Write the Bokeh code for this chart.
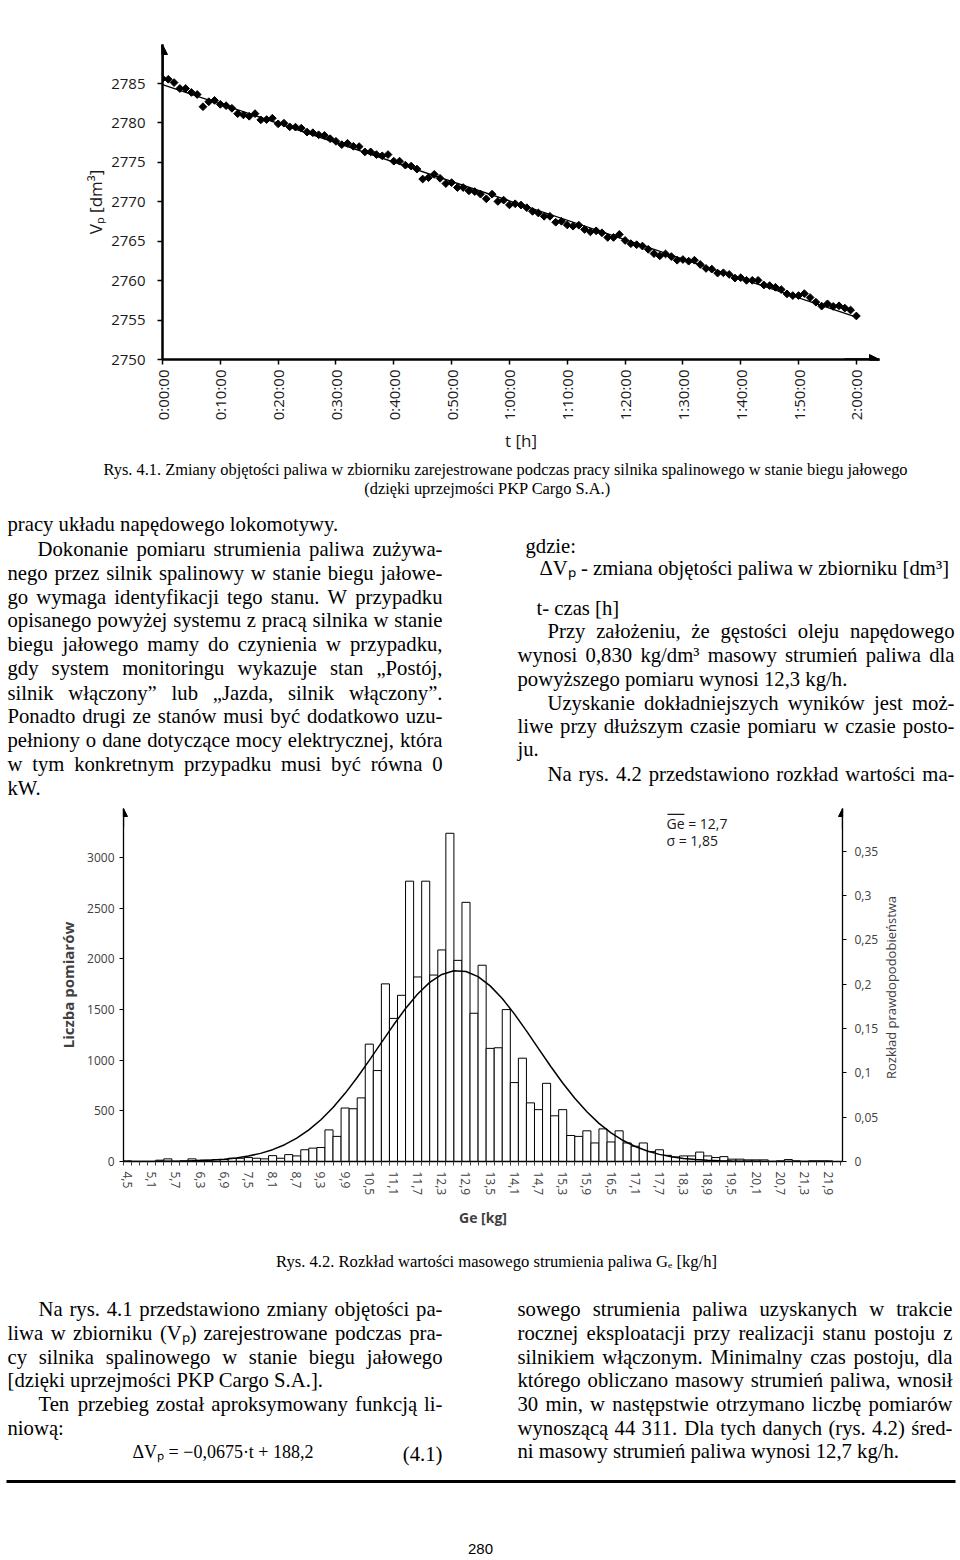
import numpy as np
from bokeh.plotting import figure
from bokeh.models import FixedTicker, Arrow, NormalHead, Label, Range1d, LinearAxis
from bokeh.layouts import column, row
from bokeh.embed import file_html
from bokeh.resources import INLINE
from bokeh.core.properties import value

# ---------------- Chart 1 data (Rys. 4.1) ----------------
minutes = list(range(0, 121))
volume_dm3 = [
    2785.62, 2785.54, 2785.12, 2784.37, 2784.37, 2783.87, 2783.61, 2782.06, 2782.69, 2782.86,
    2782.36, 2782.19, 2781.86, 2781.18, 2781.02, 2780.85, 2781.18, 2780.39, 2780.43, 2780.60,
    2779.89, 2779.97, 2779.51, 2779.47, 2779.34, 2778.84, 2778.76, 2778.50, 2778.42, 2778.00,
    2777.67, 2777.25, 2777.42, 2777.04, 2777.00, 2776.33, 2776.33, 2775.99, 2775.83, 2775.99,
    2775.15, 2775.15, 2774.65, 2774.53, 2774.15, 2772.89, 2773.06, 2773.48, 2772.98, 2772.31,
    2772.43, 2771.81, 2771.81, 2771.39, 2771.30, 2770.97, 2770.38, 2770.97, 2770.05, 2770.21,
    2769.61, 2769.75, 2769.59, 2769.25, 2768.79, 2768.58, 2768.16, 2768.16, 2767.41, 2767.53,
    2767.07, 2766.91, 2767.03, 2766.49, 2766.19, 2766.32, 2766.07, 2765.48, 2765.48, 2765.86,
    2765.10, 2764.69, 2764.56, 2764.39, 2763.97, 2763.43, 2763.14, 2763.39, 2763.05, 2762.59,
    2762.68, 2762.47, 2762.59, 2762.05, 2761.55, 2761.46, 2760.96, 2761.00, 2760.79, 2760.33,
    2760.37, 2760.04, 2760.04, 2760.04, 2759.45, 2759.37, 2759.16, 2758.87, 2758.32, 2758.11,
    2758.11, 2758.36, 2757.86, 2757.27, 2756.77, 2757.06, 2756.73, 2756.81, 2756.52, 2756.27,
    2755.52,
]
time_ticks = [0, 10, 20, 30, 40, 50, 60, 70, 80, 90, 100, 110, 120]
time_tick_labels = ["0:00:00", "0:10:00", "0:20:00", "0:30:00", "0:40:00", "0:50:00", "1:00:00",
                    "1:10:00", "1:20:00", "1:30:00", "1:40:00", "1:50:00", "2:00:00"]
volume_ticks = [2750, 2755, 2760, 2765, 2770, 2775, 2780, 2785]

# ---------------- Chart 2 data (Rys. 4.2) ----------------
ge_bins = [round(4.5 + 0.2 * i, 1) for i in range(89)]
counts = [
    6, 0, 0, 0, 13, 26, 0, 6, 26, 13,
    13, 19, 19, 32, 32, 39, 32, 26, 58, 32,
    68, 55, 116, 132, 138, 312, 248, 528, 521, 628,
    1159, 898, 1754, 1413, 1641, 2768, 1822, 2768, 1841, 2089,
    3241, 1986, 2559, 1464, 1938, 1117, 1123, 1500, 779, 1020,
    579, 512, 772, 451, 512, 257, 248, 303, 183, 322,
    193, 303, 183, 151, 183, 97, 116, 61, 45, 55,
    55, 93, 55, 39, 48, 23, 23, 16, 16, 16,
    0, 6, 19, 6, 0, 6, 6, 6, 0,
]
ge_tick_values = [round(4.5 + 0.6 * i, 1) for i in range(30)]
ge_tick_labels = ["4,5", "5,1", "5,7", "6,3", "6,9", "7,5", "8,1", "8,7", "9,3", "9,9",
                  "10,5", "11,1", "11,7", "12,3", "12,9", "13,5", "14,1", "14,7", "15,3", "15,9",
                  "16,5", "17,1", "17,7", "18,3", "18,9", "19,5", "20,1", "20,7", "21,3", "21,9"]
count_ticks = [0, 500, 1000, 1500, 2000, 2500, 3000]
prob_ticks = [0, 0.05, 0.1, 0.15, 0.2, 0.25, 0.3, 0.35]
prob_tick_labels = ["0", "0,05", "0,1", "0,15", "0,2", "0,25", "0,3", "0,35"]
pdf_ge = [round(4.5 + 0.3 * i, 1) for i in range(59)]
pdf_values = [
    0.00003, 0.00006, 0.00011, 0.0002, 0.00034, 0.00059, 0.00099, 0.00162, 0.00258, 0.00404,
    0.00616, 0.00917, 0.01334, 0.01896, 0.02629, 0.03562, 0.04713, 0.06092, 0.07687, 0.09473,
    0.11404, 0.13406, 0.15391, 0.17255, 0.18895, 0.20205, 0.21102, 0.21522, 0.21438, 0.20854,
    0.19811, 0.1838, 0.16654, 0.14738, 0.12736, 0.10749, 0.08859, 0.07131, 0.05607, 0.04304,
    0.03228, 0.02364, 0.0169, 0.0118, 0.00805, 0.00536, 0.00349, 0.00222, 0.00138, 0.00083,
    0.00049, 0.00028, 0.00016, 0.00009, 0.00005, 0.00003, 0.00001, 0.00001, 0.0,
]

CHART_FONT = "Open Sans"
SERIF = "Liberation Serif"
BODY = 20.7

# Times/Liberation Serif advance widths (per 1000 em) for justified lines
GLYPH_W = {' ': 250, ',': 250, '.': 250, '-': 333, ':': 278, ';': 278, '(': 333, ')': 333,
           '[': 333, ']': 333, '/': 278, '„': 444, '”': 444, '³': 300, 'Δ': 612, '−': 564,
           '·': 250, '=': 564, '+': 564, 'ₚ': 350, 'ₑ': 350}
GLYPH_W.update(dict(zip("abcdefghijklmnopqrstuvwxyz",
                        [444, 500, 444, 500, 444, 333, 500, 500, 278, 278, 500, 278, 778,
                         500, 500, 500, 500, 333, 389, 278, 500, 500, 722, 500, 500, 444])))
GLYPH_W.update(dict(zip("ABCDEFGHIJKLMNOPQRSTUVWXYZ",
                        [722, 667, 667, 722, 611, 556, 722, 722, 333, 389, 722, 611, 889,
                         722, 722, 556, 722, 667, 556, 611, 722, 722, 944, 722, 722, 611])))
GLYPH_W.update({d: 500 for d in "0123456789"})
GLYPH_W.update({'ą': 444, 'ę': 444, 'ć': 444, 'ł': 278, 'ń': 500, 'ó': 500, 'ś': 389,
                'ź': 444, 'ż': 444, 'Ł': 611, 'Ś': 556, 'Ż': 611})


def no_align(p):
    try:
        p.frame_align = False
    except Exception:
        pass


# ================= Chart 1 =================
p1 = figure(width=960, height=455, x_range=Range1d(0, 124.0), y_range=Range1d(2750, 2789.95),
            output_backend="svg", toolbar_location=None,
            min_border_left=162, min_border_right=81, min_border_top=44, min_border_bottom=93)
no_align(p1)
p1.grid.visible = False
p1.outline_line_color = None

slope, intercept = np.polyfit(minutes, volume_dm3, 1)
trend_t = [minutes[0], minutes[-1]]
trend_v = [intercept + slope * t for t in trend_t]
p1.line(trend_t, trend_v, line_color="black", line_width=1.3)
p1.scatter(minutes, volume_dm3, marker="square", size=5.5, angle=np.pi / 4,
           fill_color="black", line_color="black")

for ax in (p1.xaxis[0], p1.yaxis[0]):
    ax.axis_line_width = 2.5
    ax.axis_line_color = "black"
    ax.major_tick_line_color = "black"
    ax.major_tick_line_width = 1.5
    ax.major_tick_out = 5
    ax.major_tick_in = 0
    ax.minor_tick_line_color = None
    ax.major_label_text_font = CHART_FONT
    ax.major_label_text_font_size = "15px"
    ax.major_label_text_color = "#1a1a1a"
    ax.axis_label_text_font = CHART_FONT
    ax.axis_label_text_font_size = "17px"
    ax.axis_label_text_font_style = "normal"
    ax.axis_label_text_color = "#1a1a1a"

p1.yaxis.ticker = FixedTicker(ticks=volume_ticks)
p1.yaxis.major_label_standoff = 12
p1.yaxis.axis_label = "Vₚ [dm³]"
p1.yaxis.axis_label_standoff = 1
p1.xaxis.ticker = FixedTicker(ticks=time_ticks)
p1.xaxis.major_label_overrides = dict(zip(time_ticks, time_tick_labels))
p1.xaxis.major_label_orientation = np.pi / 2
p1.xaxis.major_label_standoff = 5
p1.xaxis.axis_label = "t [h]"
p1.xaxis.axis_label_standoff = 6

p1.add_layout(Arrow(end=NormalHead(size=10, fill_color="black", line_color="black"),
                    x_start=118, y_start=2750, x_end=124.0, y_end=2750,
                    line_color="black", line_width=2.5))
p1.add_layout(Arrow(end=NormalHead(size=10, fill_color="black", line_color="black"),
                    x_start=0, y_start=2786, x_end=0, y_end=2789.95,
                    line_color="black", line_width=2.5))


# ================= text helpers =================
def text_panel(w, h):
    p = figure(width=w, height=h, x_range=Range1d(0, w), y_range=Range1d(h, 0),
               output_backend="svg", toolbar_location=None, x_axis_type=None, y_axis_type=None,
               min_border=0)
    no_align(p)
    p.grid.visible = False
    p.outline_line_color = None
    return p


def put(p, xs, ys, texts, size=BODY, align="left", font=SERIF, angle=0.0, color="black"):
    p.text(x=xs, y=ys, text=texts, text_font=value(font), text_font_size=value(f"{size}px"),
           text_align=align, text_baseline="middle", text_color=color, angle=angle)


def text_width(s, size):
    return sum(GLYPH_W.get(ch, 500) for ch in s) * size / 1000.0


def put_paragraph(p, lines, x_right, size=BODY):
    lx, ly, lt, rx, ry, rt = [], [], [], [], [], []
    for x0, y, txt, justify in lines:
        words = txt.split()
        if not justify or len(words) < 2:
            lx.append(x0); ly.append(y); lt.append(txt)
            continue
        widths = [text_width(w, size) for w in words]
        gap = (x_right - x0 - sum(widths)) / (len(words) - 1)
        gap = max(gap, 0.15 * size)
        x = x0
        for i, (w, wd) in enumerate(zip(words, widths)):
            if i == len(words) - 1:
                rx.append(x_right); ry.append(y); rt.append(w)
            else:
                lx.append(x); ly.append(y); lt.append(w)
            x += wd + gap
    put(p, lx, ly, lt, size=size)
    if rt:
        put(p, rx, ry, rt, size=size, align="right")


LEFT_END = 442
RIGHT_END = 954

t1 = text_panel(960, 350)
put(t1, [505], [14], ["Rys. 4.1. Zmiany objętości paliwa w zbiorniku zarejestrowane podczas pracy "
                      "silnika spalinowego w stanie biegu jałowego"], size=16.4, align="center")
put(t1, [487], [33], ["(dzięki uprzejmości PKP Cargo S.A.)"], size=16.4, align="center")

left1 = [
    (7, 68, "pracy układu napędowego lokomotywy.", False),
    (37, 93, "Dokonanie pomiaru strumienia paliwa zużywa-", True),
    (7, 117, "nego przez silnik spalinowy w stanie biegu jałowe-", True),
    (7, 141, "go wymaga identyfikacji tego stanu. W przypadku", True),
    (7, 164, "opisanego powyżej systemu z pracą silnika w stanie", True),
    (7, 188, "biegu jałowego mamy do czynienia w przypadku,", True),
    (7, 212, "gdy system monitoringu wykazuje stan „Postój,", True),
    (7, 237, "silnik włączony” lub „Jazda, silnik włączony”.", True),
    (7, 260, "Ponadto drugi ze stanów musi być dodatkowo uzu-", True),
    (7, 284, "pełniony o dane dotyczące mocy elektrycznej, która", True),
    (7, 308, "w tym konkretnym przypadku musi być równa 0", True),
    (7, 332, "kW.", False),
]
right1 = [
    (525, 90, "gdzie:", False),
    (539, 112, "ΔVₚ - zmiana objętości paliwa w zbiorniku [dm³]", False),
    (536, 152, "t- czas [h]", False),
    (547, 175, "Przy założeniu, że gęstości oleju napędowego", True),
    (517, 199, "wynosi 0,830 kg/dm³ masowy strumień paliwa dla", True),
    (517, 223, "powyższego pomiaru wynosi 12,3 kg/h.", False),
    (547, 247, "Uzyskanie dokładniejszych wyników jest moż-", True),
    (517, 270, "liwe przy dłuższym czasie pomiaru w czasie posto-", True),
    (517, 293, "ju.", False),
    (547, 318, "Na rys. 4.2 przedstawiono rozkład wartości ma-", True),
]
put_paragraph(t1, left1, LEFT_END)
put_paragraph(t1, right1, RIGHT_END)

# ================= Chart 2 =================
p2 = figure(width=881, height=425, x_range=Range1d(4.4, 22.244), y_range=Range1d(0, 3485.6),
            output_backend="svg", toolbar_location=None,
            min_border_left=123, min_border_right=38, min_border_top=3, min_border_bottom=61)
no_align(p2)
p2.grid.visible = False
p2.outline_line_color = None
p2.extra_y_ranges = {"prob": Range1d(0, 0.3982)}

p2.vbar(x=ge_bins, top=counts, width=0.2, bottom=0, fill_color="white",
        line_color="black", line_width=1)
p2.line(pdf_ge, pdf_values, y_range_name="prob", line_color="black", line_width=1.5)

right_axis = LinearAxis(y_range_name="prob")
p2.add_layout(right_axis, "right")

for ax in (p2.yaxis[0], right_axis, p2.xaxis[0]):
    ax.axis_line_color = "black"
    ax.axis_line_width = 1.3
    ax.major_tick_line_color = "black"
    ax.major_tick_out = 4
    ax.major_tick_in = 0
    ax.minor_tick_line_color = None
    ax.major_label_text_font = CHART_FONT
    ax.major_label_text_font_size = "12px"
    ax.major_label_text_color = "#404040"
    ax.axis_label_text_font = CHART_FONT
    ax.axis_label_text_color = "#404040"
    ax.axis_label_text_font_style = "bold"
    ax.axis_label_text_font_size = "14px"

p2.yaxis[0].ticker = FixedTicker(ticks=count_ticks)
p2.yaxis[0].major_label_standoff = 5
p2.yaxis[0].axis_label = "Liczba pomiarów"
p2.yaxis[0].axis_label_standoff = 6
p2.yaxis[0].axis_label_text_font_size = "15px"

right_axis.ticker = FixedTicker(ticks=prob_ticks)
right_axis.major_label_overrides = dict(zip(prob_ticks, prob_tick_labels))
right_axis.major_label_standoff = 8

xa = p2.xaxis[0]
xa.ticker = FixedTicker(ticks=ge_tick_values,
                        minor_ticks=[round(4.4 + 0.2 * i, 1) for i in range(90)])
xa.major_label_overrides = dict(zip(ge_tick_values, ge_tick_labels))
xa.major_label_orientation = -np.pi / 2
xa.major_tick_line_color = None
xa.major_tick_out = 0
xa.minor_tick_line_color = "#404040"
xa.minor_tick_out = 4
xa.minor_tick_in = 0
xa.major_label_standoff = 6
xa.axis_label = "Ge [kg]"
xa.axis_label_standoff = 10

p2.add_layout(Arrow(end=NormalHead(size=8, fill_color="black", line_color="black"),
                    x_start=4.4, y_start=3300, x_end=4.4, y_end=3485.6,
                    line_color="black", line_width=1.3))
p2.add_layout(Arrow(end=NormalHead(size=8, fill_color="black", line_color="black"),
                    x_start=22.244, y_start=0.375, x_end=22.244, y_end=0.3982,
                    y_range_name="prob", line_color="black", line_width=1.3))

p2.add_layout(Label(x=17.875, y=3341, text="Ge = 12,7", text_align="left",
                    text_baseline="middle", text_font=CHART_FONT,
                    text_font_size="14px", text_color="#1a1a1a"))
p2.add_layout(Label(x=17.875, y=3167, text="σ = 1,85", text_align="left",
                    text_baseline="middle", text_font=CHART_FONT,
                    text_font_size="14px", text_color="#1a1a1a"))
p2.segment(x0=[17.90], y0=[3428], x1=[18.32], y1=[3428], line_color="#1a1a1a", line_width=1.2)

# right-hand axis title (reads bottom-to-top, as in the reference)
side = text_panel(79, 425)
put(side, [9], [182], ["Rozkład prawdopodobieństwa"], size=13, align="center",
    font=CHART_FONT, angle=np.pi / 2, color="#404040")

# ================= bottom text =================
t2 = text_panel(960, 330)
put(t2, [496], [31], ["Rys. 4.2. Rozkład wartości masowego strumienia paliwa Gₑ [kg/h]"],
    size=16.6, align="center")
left2 = [
    (38, 78, "Na rys. 4.1 przedstawiono zmiany objętości pa-", True),
    (7, 102, "liwa w zbiorniku (Vₚ) zarejestrowane podczas pra-", True),
    (7, 126, "cy silnika spalinowego w stanie biegu jałowego", True),
    (7, 149, "[dzięki uprzejmości PKP Cargo S.A.].", False),
    (38, 173, "Ten przebieg został aproksymowany funkcją li-", True),
    (7, 197, "niową:", False),
]
right2 = [
    (517, 78, "sowego strumienia paliwa uzyskanych w trakcie", True),
    (517, 102, "rocznej eksploatacji przy realizacji stanu postoju z", True),
    (517, 126, "silnikiem włączonym.  Minimalny czas postoju, dla", True),
    (517, 149, "którego obliczano masowy strumień paliwa, wnosił", True),
    (517, 173, "30 min, w następstwie otrzymano liczbę pomiarów", True),
    (517, 197, "wynoszącą 44 311. Dla tych danych (rys. 4.2) śred-", True),
    (517, 220, "ni masowy strumień paliwa wynosi 12,7 kg/h.", False),
]
put_paragraph(t2, left2, LEFT_END)
put_paragraph(t2, right2, 952)
put(t2, [132], [221], ["ΔVₚ = −0,0675·t + 188,2"], size=18)
put(t2, [442], [223], ["(4.1)"], align="right")
t2.segment(x0=[6], y0=[251], x1=[955], y1=[251], line_color="black", line_width=3)
put(t2, [480], [318], ["280"], size=15, align="center", font="Liberation Sans")

layout = column(p1, t1, row(p2, side), t2)
open("out.html", "w").write(file_html(layout, INLINE))
